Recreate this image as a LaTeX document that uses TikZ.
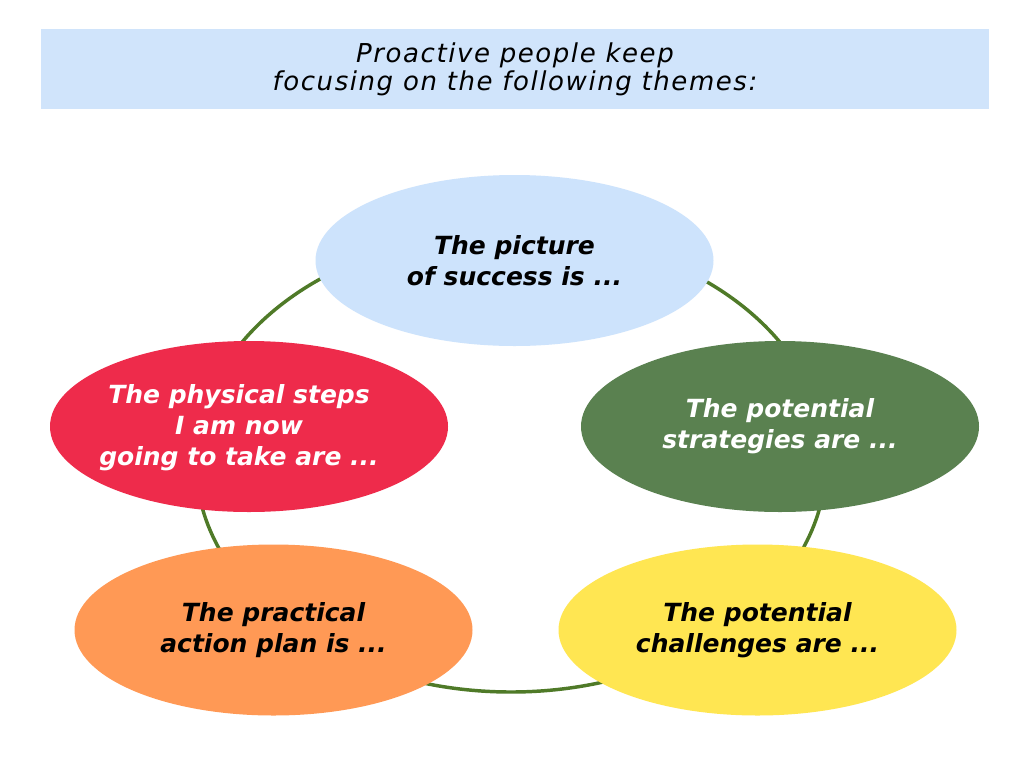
\documentclass[tikz,border=0pt]{standalone}
\usepackage{fontspec}
\setmainfont{DejaVu Sans}
\newfontfamily\titlefont{DejaVu Sans}[LetterSpace=6]
\usetikzlibrary{shapes.geometric}
\definecolor{titlebg}{HTML}{D0E4FB}
\definecolor{skyblue}{HTML}{CDE3FC}
\definecolor{leaf}{HTML}{5A8150}
\definecolor{rose}{HTML}{EE2B4B}
\definecolor{apricot}{HTML}{FF9955}
\definecolor{lemon}{HTML}{FFE652}
\definecolor{ringgreen}{HTML}{4F7A28}
\begin{document}
\begin{tikzpicture}[x=0.75pt,y=-0.75pt,
  theme/.style={ellipse, minimum width=298.5pt, minimum height=128.25pt,
    inner sep=0pt, align=center,
    font=\fontsize{18.75}{23.25}\selectfont\bfseries\itshape},
  themetext/.style={inner sep=0pt, align=center,
    font=\fontsize{18.75}{23.25}\selectfont\bfseries\itshape},
  titlebox/.style={fill=titlebg, minimum width=711pt, minimum height=60pt,
    inner sep=0pt, align=center, font=\titlefont\fontsize{19.5}{21}\selectfont\itshape},
  ringline/.style={draw=ringgreen, line width=2.6pt}]
\useasboundingbox (0,0) rectangle (1024,768);
\fill[white] (0,0) rectangle (1024,768);
\node[titlebox] (title) at (515,69) {Proactive people keep\\focusing on the following themes:};
\coordinate (ringc) at (511,462);
\draw[ringline] (ringc) ellipse [x radius=236.25pt, y radius=172.5pt];
\node[theme, fill=skyblue, text=black] (picture) at (514.5,260.5) {The picture\\of success is ...};
\node[theme, fill=leaf, text=white] (strategies) at (780,426.5) {The potential\\strategies are ...};
\node[theme, fill=rose] (steps) at (249,426.5) {};
\node[themetext, text=white] (stepstext) at (239,428) {The physical steps\\I am now\\going to take are ...};
\node[theme, fill=apricot, text=black] (plan) at (273.5,630) {The practical\\action plan is ...};
\node[theme, fill=lemon, text=black] (challenges) at (757.5,630) {The potential\\challenges are ...};
\end{tikzpicture}
\end{document}
